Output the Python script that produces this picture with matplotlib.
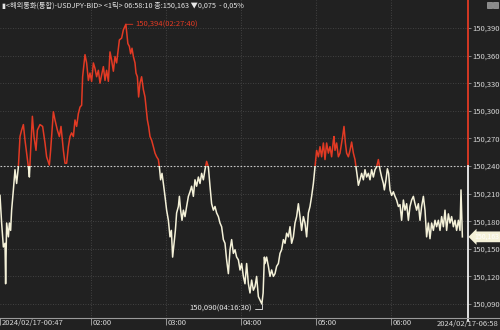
import matplotlib
matplotlib.use('Agg')
import matplotlib.pyplot as plt
import matplotlib.transforms as mtransforms
from matplotlib.patches import Rectangle
from matplotlib.lines import Line2D

plt.rcParams['font.family'] = ['Noto Sans CJK KR', 'DejaVu Sans']
NUM_FONT = ['Liberation Sans Narrow', 'Noto Sans CJK KR', 'DejaVu Sans']

BG = '#212121'
RED = '#e23a24'
CREAM = '#f4f1d8'
GRID = '#4c4c4c'
TXT = '#d6d6d6'

title_text = '▮<해외통화(통합)-USDJPY-BID> <1틱> 06:58:10 종:150,163 ▼0,075  - 0,05%'
base_price = 150.240
last_price = 150.163
max_label = '150,394(02:27:40)'
min_label = '150,090(04:16:30)'
last_label = '150,163'

# minutes since 00:00 on 2024/02/17
minutes = [
    47.0, 48.3, 49.7, 51.0, 51.5, 52.3, 53.7, 54.5, 55.5, 56.3, 57.7, 59.0, 60.3, 61.7, 63.0, 64.3,
    65.7, 67.0, 68.3, 69.7, 70.5, 71.5, 72.9, 74.2, 75.8, 76.9, 79.0, 81.1, 83.0, 84.3, 86.5, 87.5,
    89.7, 91.0, 92.9, 94.5, 95.8, 97.7, 99.0, 100.3, 101.7, 103.0, 104.3, 105.7, 107.0, 108.3, 109.7,
    111.0, 112.3, 113.1, 115.0, 116.3, 117.7, 119.0, 120.3, 121.7, 123.0, 124.3, 125.7, 127.0, 128.3,
    129.7, 131.0, 132.3, 133.7, 135.0, 136.3, 137.7, 139.0, 140.3, 142.5,
    144.3, 145.7, 147.7, 148.5, 149.3, 150.5, 151.5, 152.6, 153.7, 155.0, 155.8, 156.9, 157.9, 159.0,
    160.3, 161.7, 163.0, 163.8, 164.9, 165.9, 167.0, 168.3, 169.7, 171.0, 172.3, 173.7, 174.5, 175.5,
    176.6, 177.7, 179.0, 180.3, 181.7, 183.0, 184.1, 185.1, 186.2, 187.3, 188.3, 189.7, 190.5, 191.5,
    192.6, 193.7, 195.0, 196.3, 197.7, 199.0, 200.3, 201.7, 203.0, 204.3, 205.7, 207.0, 208.3, 209.7,
    211.0, 212.3, 213.7, 215.0, 216.3, 217.7, 219.0, 220.3, 221.7, 223.0,
    224.3, 225.7, 227.0, 228.3, 229.7, 231.0, 232.3, 233.7, 235.0, 236.3, 237.7, 239.0, 240.3, 241.7,
    243.0, 244.3, 245.7, 247.0, 248.3, 249.7, 251.0, 252.3, 253.7, 256.5, 257.5, 258.5, 259.0, 260.3,
    261.7, 263.0, 264.3, 265.7, 267.0, 268.3, 269.7, 271.0, 272.3, 273.7, 275.0, 276.3, 277.7, 279.0,
    280.3, 281.7, 283.0, 284.3, 285.7, 287.0, 288.3, 289.7, 291.0, 292.3, 293.7, 295.0, 296.3, 297.7,
    299.0, 300.3, 301.7, 303.0, 304.3, 305.7, 307.0, 308.3, 309.7, 311.0, 312.3, 313.7, 314.2, 315.0,
    316.3, 317.7, 319.0,
    321.1, 322.2, 323.3, 324.3, 325.7, 327.0, 328.3, 329.7, 331.0, 331.8, 332.9, 333.7, 335.0, 336.3,
    337.7, 339.0, 340.3, 341.7, 343.0, 344.3, 345.7, 347.0, 348.3, 349.7, 351.0, 352.3, 353.7, 354.5,
    355.8, 356.9, 357.9, 359.0, 360.3, 361.7, 363.0, 364.3, 365.7, 367.0, 368.3, 369.7, 371.0, 372.3,
    373.7, 375.0, 376.3, 377.7, 379.0, 380.3, 381.7, 383.0, 384.3, 385.7, 387.0, 388.3, 389.7, 391.0,
    392.3, 393.7, 395.0, 396.3, 397.7, 399.0, 400.3, 401.7, 403.0, 404.3, 405.7, 407.0, 408.3, 409.7,
    411.0, 412.3, 413.7, 415.0, 415.8, 416.9,
]
prices = [
    150.208, 150.178, 150.152, 150.156, 150.112, 150.178, 150.163, 150.178, 150.170, 150.192, 150.214,
    150.236, 150.221, 150.239, 150.272, 150.279, 150.285, 150.268, 150.254, 150.239, 150.228, 150.257,
    150.294, 150.272, 150.257, 150.279, 150.285, 150.283, 150.265, 150.250, 150.241, 150.257, 150.299,
    150.290, 150.279, 150.272, 150.283, 150.257, 150.243, 150.243, 150.261, 150.272, 150.276, 150.272,
    150.290, 150.283, 150.297, 150.304, 150.306, 150.337, 150.361, 150.352, 150.333, 150.341, 150.332,
    150.352, 150.346, 150.337, 150.344, 150.330, 150.339, 150.348, 150.333, 150.344, 150.332, 150.364,
    150.355, 150.343, 150.359, 150.352, 150.377,
    150.379, 150.388, 150.394, 150.384, 150.373, 150.370, 150.362, 150.368, 150.359, 150.352, 150.341,
    150.337, 150.315, 150.330, 150.337, 150.323, 150.315, 150.304, 150.290, 150.283, 150.272, 150.268,
    150.261, 150.254, 150.250, 150.247, 150.239, 150.225, 150.232, 150.221, 150.207, 150.192, 150.181,
    150.163, 150.170, 150.141, 150.156, 150.170, 150.189, 150.196, 150.207, 150.192, 150.181, 150.192,
    150.185, 150.196, 150.207, 150.212, 150.218, 150.207, 150.225, 150.218, 150.228, 150.221, 150.232,
    150.225, 150.236, 150.245, 150.239, 150.218, 150.199, 150.192, 150.196, 150.189, 150.185, 150.178,
    150.174, 150.160, 150.156, 150.138, 150.123, 150.149, 150.160, 150.145, 150.149, 150.141, 150.138,
    150.127, 150.134, 150.120, 150.112, 150.134, 150.112, 150.102, 150.116, 150.105, 150.109, 150.120,
    150.098, 150.090, 150.102, 150.141, 150.134, 150.141, 150.131, 150.120, 150.127, 150.120, 150.123,
    150.131, 150.134, 150.145, 150.149, 150.160, 150.156, 150.167, 150.163, 150.174, 150.156, 150.163,
    150.178, 150.185, 150.199, 150.185, 150.170, 150.185, 150.178, 150.163, 150.189, 150.196, 150.207,
    150.221, 150.239, 150.257, 150.250, 150.261, 150.250, 150.265, 150.247, 150.265, 150.254, 150.261,
    150.250, 150.268, 150.272, 150.257, 150.265, 150.250, 150.254,
    150.272, 150.283, 150.265, 150.254, 150.250, 150.257, 150.266, 150.254, 150.247, 150.239, 150.228,
    150.219, 150.225, 150.232, 150.225, 150.236, 150.228, 150.232, 150.225, 150.236, 150.228, 150.236,
    150.239, 150.247, 150.236, 150.228, 150.221, 150.214, 150.225, 150.237, 150.232, 150.214, 150.208,
    150.212, 150.207, 150.203, 150.196, 150.198, 150.181, 150.203, 150.192, 150.199, 150.181, 150.196,
    150.203, 150.207, 150.199, 150.192, 150.199, 150.181, 150.196, 150.207, 150.192, 150.163, 150.178,
    150.161, 150.178, 150.170, 150.181, 150.174, 150.181, 150.170, 150.185, 150.174, 150.192, 150.170,
    150.188, 150.178, 150.185, 150.174, 150.181, 150.170, 150.181, 150.170, 150.214, 150.163,
]

ytick_values = [150.090, 150.120, 150.150, 150.180, 150.210, 150.240, 150.270, 150.300, 150.330, 150.360, 150.390]
ytick_labels = ['150,090', '150,120', '150,150', '150,180', '150,210', '150,240', '150,270', '150,300', '150,330', '150,360', '150,390']
xtick_minutes = [47, 120, 180, 240, 300, 360]
xtick_labels = ['2024/02/17-00:47', '02:00', '03:00', '04:00', '05:00', '06:00']
end_label = '2024/02/17-06:58'

fig = plt.figure(figsize=(5, 3.3), dpi=100, facecolor=BG)
ax = fig.add_axes([0, 12 / 330, 468 / 500, 318 / 330], facecolor=BG)

x0, x1 = 47, 421.4
y0, y1 = 150.0748, 150.4204
ax.set_xlim(x0, x1)
ax.set_ylim(y0, y1)

# 기준선 위는 빨강, 아래는 크림색
red_clip = Rectangle((x0, base_price), x1 - x0, y1 - base_price, transform=ax.transData)
low_clip = Rectangle((x0, y0), x1 - x0, base_price - y0, transform=ax.transData)
l1, = ax.plot(minutes, prices, color=RED, lw=1.1, zorder=3)
l1.set_clip_path(red_clip)
l2, = ax.plot(minutes, prices, color=CREAM, lw=1.1, zorder=3)
l2.set_clip_path(low_clip)

# grid
for v in ytick_values:
    if v != base_price:
        ax.axhline(v, color=GRID, lw=0.6, ls=(0, (1, 2)), zorder=1)
for m in xtick_minutes[1:]:
    ax.axvline(m, color=GRID, lw=0.6, ls=(0, (1, 2)), zorder=1)
ax.axhline(base_price, color='#c8c8c8', lw=0.8, ls=(0, (1.5, 1.5)), zorder=2)

# 오른쪽 축선
frac = (base_price - y0) / (y1 - y0)
ax.axvline(x1, ymin=frac, ymax=1, color=RED, lw=1.3, clip_on=False, zorder=4)
ax.axvline(x1, ymin=-0.01, ymax=frac, color='#f0f0f0', lw=1.3, clip_on=False, zorder=4)

for s in ax.spines.values():
    s.set_visible(False)
fig.add_artist(Line2D([0, 1], [12 / 330, 12 / 330], color='#9a9a9a', lw=0.8))

ax.yaxis.tick_right()
ax.set_yticks(ytick_values)
ax.set_yticklabels(ytick_labels, fontsize=5.5, color=TXT, family=NUM_FONT)
ax.tick_params(axis='y', length=2, width=0.5, color='#aaaaaa', pad=1.5)

ax.set_xticks(xtick_minutes)
ax.set_xticklabels(xtick_labels, fontsize=5.5, color=TXT, family=NUM_FONT, ha='left')
ax.tick_params(axis='x', length=5, width=0.6, color='#aaaaaa', pad=-4.5)
shift = mtransforms.ScaledTranslation(1.5 / 100, 0, fig.dpi_scale_trans)
for lab in ax.get_xticklabels():
    lab.set_transform(lab.get_transform() + shift)
fig.text(0.998, 0.5 / 330 + 0.004, end_label, fontsize=5.5, color=TXT, family=NUM_FONT,
         ha='right', va='bottom')

# 최고/최저 표시
i_max = prices.index(max(prices))
i_min = prices.index(min(prices))
ax.annotate(max_label, xy=(minutes[i_max], prices[i_max]), xytext=(7, 0), textcoords='offset points',
            ha='left', va='center', fontsize=5.5, color=RED, family=NUM_FONT,
            arrowprops=dict(arrowstyle='-', color=RED, lw=0.6, shrinkA=0, shrinkB=0))
ax.annotate(min_label, xy=(minutes[i_min], prices[i_min]), xytext=(-7, -3.5), textcoords='offset points',
            ha='right', va='center', fontsize=5.5, color='#e8e8e8', family=NUM_FONT,
            arrowprops=dict(arrowstyle='-', color='#e8e8e8', lw=0.6, shrinkA=0, shrinkB=0,
                            connectionstyle='angle,angleA=0,angleB=90,rad=0'))

# 현재가 박스
ax.annotate(last_label, xy=(1.0, last_price), xycoords=('axes fraction', 'data'), xytext=(4.5, 0),
            textcoords='offset points', ha='left', va='center', fontsize=5, color='#ffffff',
            family=NUM_FONT, annotation_clip=False,
            bbox=dict(boxstyle='larrow,pad=0.2', fc=CREAM, ec='none'))

fig.text(0.004, 1 - 6 / 330, title_text, fontsize=5.2, color='#e6e6e6', ha='left', va='center')

# 오른쪽 위 작은 버튼
fig.patches.append(Rectangle((487 / 500, 1 - 8 / 330), 5 / 500, 6 / 330, transform=fig.transFigure,
                             fc='#8a8a8a', ec='#bbbbbb', lw=0.4))
fig.patches.append(Rectangle((493 / 500, 1 - 8 / 330), 5 / 500, 6 / 330, transform=fig.transFigure,
                             fc='#8a8a8a', ec='#bbbbbb', lw=0.4))

fig.savefig('out.png', dpi=100, facecolor=BG)
